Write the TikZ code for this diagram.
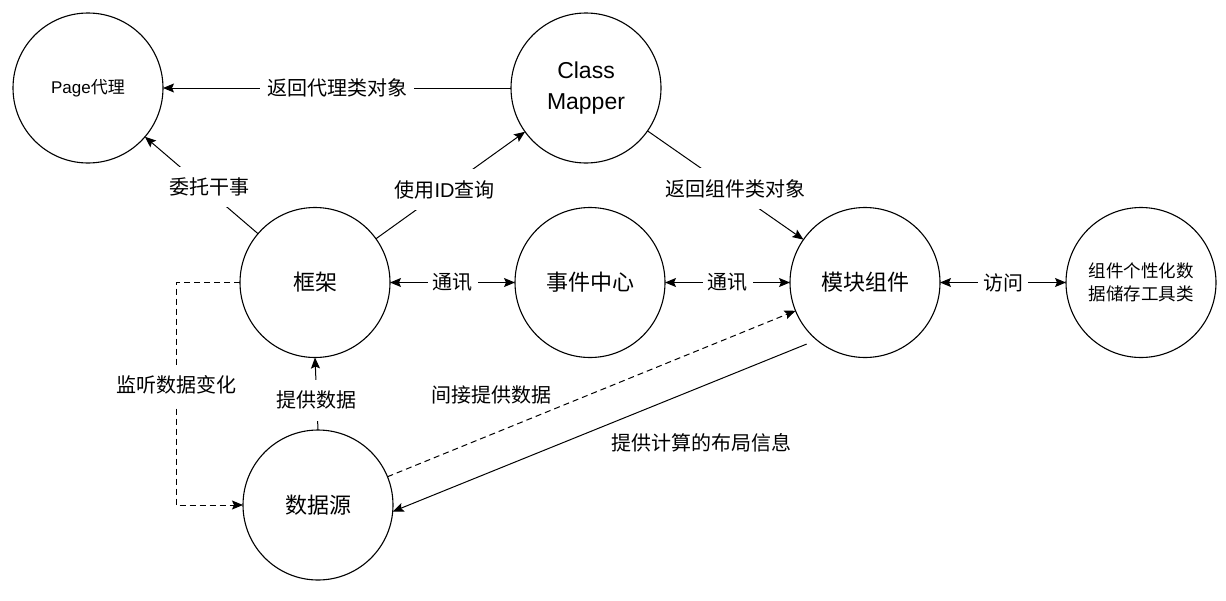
\documentclass[tikz,border=0pt]{standalone}
\usepackage{fontspec}
\setmainfont{Noto Sans CJK SC}
\newfontfamily\latf{Liberation Sans}
\newcommand\LT[1]{{\latf #1}}
\usetikzlibrary{arrows.meta}
\begin{document}
\begin{tikzpicture}[x=1pt,y=-1pt,
  >={Stealth[length=11pt,width=9pt,inset=2pt]},
  circ/.style={circle,draw,line width=1.1pt,minimum size=150pt,inner sep=0pt,outer sep=0pt,font=\fontsize{22}{26}\selectfont,align=center},
  conn/.style={line width=1pt},
  dsh/.style={conn,dash pattern=on 6pt off 4pt},
  lbl/.style={fill=white,inner xsep=5pt,inner ysep=11pt,font=\fontsize{20}{24}\selectfont},
  freelbl/.style={font=\fontsize{20}{24}\selectfont,inner sep=0pt}
]
\useasboundingbox (0,0) rectangle (1226,600);
\node[circ,font=\fontsize{17}{20}\selectfont] (page) at (88,88) {\LT{Page}代理};
\node[circ,font=\fontsize{23}{31}\selectfont] (cm) at (586,88) {\LT{Class}\\\LT{Mapper}};
\node[circ] (kj) at (315,282.5) {框架};
\node[circ] (sj) at (590,282.5) {事件中心};
\node[circ] (mk) at (865,282.5) {模块组件};
\node[circ,font=\fontsize{17.5}{23}\selectfont] (gj) at (1141,282.5) {组件个性化数\\据储存工具类};
\node[circ] (sjy) at (318,505) {数据源};

\draw[conn,->] (cm) -- node[lbl,inner xsep=7pt]{返回代理类对象} (page);
\draw[conn,->] (kj) -- node[lbl,pos=0.484,xshift=6pt]{委托干事} (page);
\draw[conn,->] (kj) -- node[lbl,pos=0.46]{使用\LT{ID}查询} (cm);
\draw[conn,->] (cm) -- node[lbl,pos=0.53,xshift=5pt]{返回组件类对象} (mk);
\draw[conn,<->] (kj) -- node[lbl]{通讯} (sj);
\draw[conn,<->] (sj) -- node[lbl]{通讯} (mk);
\draw[conn,<->] (mk) -- node[lbl]{访问} (gj);
\draw[conn,->] (sjy.north) -- node[lbl,pos=0.41]{提供数据} (kj.south);
\coordinate (c1) at (176,282.5);
\coordinate (c2) at (176,505);
\draw[dsh,->] (kj.west) -- (c1) -- node[lbl,pos=0.46]{监听数据变化} (c2) -- (sjy.west);
\draw[dsh,->] (sjy) -- node[freelbl,pos=0.254,yshift=40pt]{间接提供数据} (mk);
\draw[conn,->,shorten <=11pt] (mk.230) -- node[freelbl,pos=0.271,yshift=-56pt]{提供计算的布局信息} (sjy.355.5);
\end{tikzpicture}
\end{document}
